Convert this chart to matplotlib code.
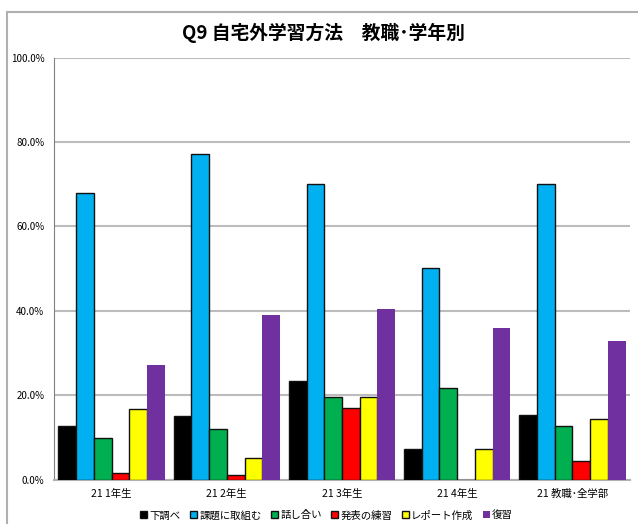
import matplotlib.pyplot as plt
import numpy as np
from matplotlib.patches import Rectangle

plt.rcParams['font.family'] = ['Noto Sans CJK JP', 'DejaVu Sans']

groups = ['21 1年生', '21 2年生', '21 3年生', '21 4年生', '21 教職･全学部']
series = ['下調べ', '課題に取組む', '話し合い', '発表の練習', 'レポート作成', '復習']
colors = ['#000000', '#00b0f0', '#00b050', '#ff0000', '#ffff00', '#7030a0']

shirabe = [12.7, 15.0, 23.3, 7.2, 15.3]
kadai = [68.0, 77.1, 70.1, 50.1, 70.0]
hanashiai = [9.8, 12.0, 19.5, 21.6, 12.6]
happyo = [1.5, 1.1, 16.9, 0.0, 4.4]
report = [16.7, 5.0, 19.5, 7.2, 14.3]
fukushu = [27.1, 39.0, 40.4, 35.8, 32.8]
values = [shirabe, kadai, hanashiai, happyo, report, fukushu]

fig = plt.figure(figsize=(6.38, 5.24), dpi=100)
# outer chart border (left/top visible)
fig.patches.append(Rectangle((7 / 638, -0.1), 1.2, 1 - 12 / 524 + 0.1,
                             transform=fig.transFigure, fill=False,
                             edgecolor='#b0b0b0', linewidth=1.5))
ax = fig.add_axes([54 / 638, 1 - 479.5 / 524, (630 - 54) / 638, (479.5 - 57.5) / 524])

x = np.arange(len(groups))
w = 0.154
for i, (name, vals) in enumerate(zip(series, values)):
    ec = 'none' if i == 5 else '#111111'
    ax.bar(x + (i - 2.5) * w, vals, w, color=colors[i], edgecolor=ec,
           linewidth=1.0, label=name, zorder=3)

ax.set_ylim(0, 100)
ax.set_xlim(-0.5, len(groups) - 0.5)
ax.set_yticks(np.arange(0, 101, 20))
ax.set_yticklabels(['%.1f%%' % v for v in np.arange(0, 101, 20)], fontsize=7)
ax.set_xticks(x)
ax.set_xticklabels(groups, fontsize=7.5)
ax.tick_params(length=0, pad=7)
ax.grid(axis='y', color='#bcbcbc', linewidth=1.5, zorder=0)
for s in ['top', 'right']:
    ax.spines[s].set_visible(False)
ax.spines['left'].set_color('#808080')
ax.spines['bottom'].set_color('#b0b0b0')
ax.spines['bottom'].set_linewidth(1.5)

fig.text(0.507, 1 - 33 / 524, 'Q9 自宅外学習方法　教職･学年別', ha='center', va='center',
         fontsize=13.5, fontweight='bold')

ax.legend(loc='center', bbox_to_anchor=(0.473, -0.085), ncol=6, frameon=False,
          fontsize=7.5, handlelength=0.7, handleheight=0.7, handletextpad=0.2,
          columnspacing=0.9)

fig.savefig('out.png', dpi=100)
